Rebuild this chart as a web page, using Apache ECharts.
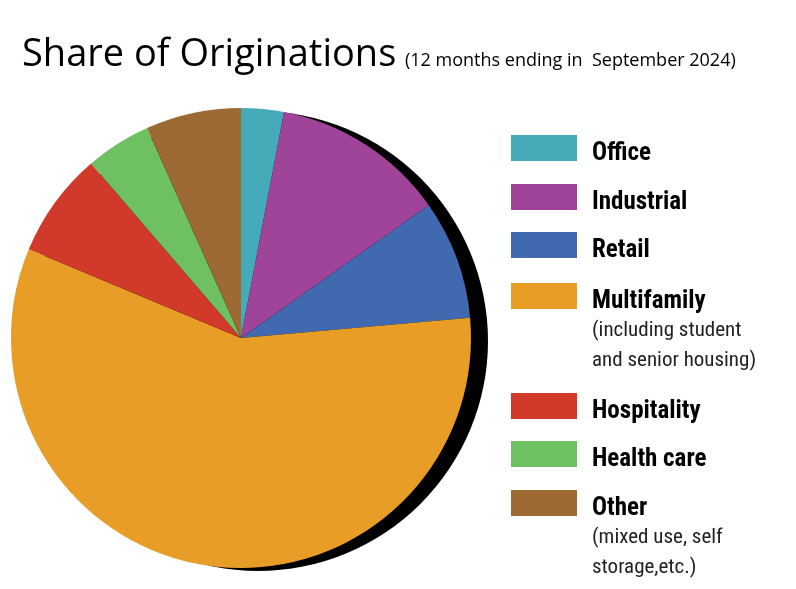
<!DOCTYPE html>
<html><head><meta charset="utf-8">
<script src="https://cdn.jsdelivr.net/npm/echarts@6/dist/echarts.min.js"></script>
<style>html,body{margin:0;padding:0;background:#fff}#c{width:796px;height:589px}</style>
</head><body><div id="c"></div>
<script>
const categories = ['Office','Industrial','Retail','Multifamily','Hospitality','Health care','Other'];
const values = [3.0, 12.2, 8.4, 57.7, 7.4, 4.6, 6.7];
const colors = ['#45abb8','#a0449a','#4169b0','#e89e26','#d13a2a','#6fbf63','#9d6a34'];
const subLabels = [[],[],[],['(including student','and senior housing)'],[],[],['(mixed use, self','storage,etc.)']];
const legendTops = [135,184,232,283,393,441,490];

const chart = echarts.init(document.getElementById('c'));
const cond = "'Liberation Sans Narrow','Roboto Condensed','DejaVu Sans Condensed',sans-serif";
const graphic = [
  {type:'text', left:22, top:36, style:{text:'Share of Originations', font:'38px "Open Sans", sans-serif', fill:'#000'}},
  {type:'text', left:405, top:52, style:{text:'(12 months ending in  September 2024)', font:'18px "Open Sans", sans-serif', fill:'#000'}}
];
categories.forEach((c,i)=>{
  const t = legendTops[i];
  graphic.push({type:'rect', shape:{x:511,y:t,width:66,height:26}, style:{fill:colors[i]}});
  graphic.push({type:'text', x:592, y:t+19, style:{text:c, font:'bold 25px '+cond, fill:'#000', verticalAlign:'middle'}});
  subLabels[i].forEach((s,j)=>{
    graphic.push({type:'text', x:592, y:t+48+j*30, style:{text:s, font:'21px '+cond, fill:'#222', verticalAlign:'middle'}});
  });
});
chart.setOption({
  animation:false,
  graphic: graphic,
  series:[
    {type:'pie', silent:true, center:[258,341], radius:230, z:1, startAngle:90, clockwise:true,
     label:{show:false}, labelLine:{show:false},
     data:[{value:1, itemStyle:{color:'#000'}}]},
    {type:'pie', center:[241,338], radius:230, z:2, startAngle:90, clockwise:true,
     label:{show:false}, labelLine:{show:false}, itemStyle:{borderWidth:0},
     data: categories.map((c,i)=>({name:c, value:values[i], itemStyle:{color:colors[i]}}))}
  ]
});
</script></body></html>
